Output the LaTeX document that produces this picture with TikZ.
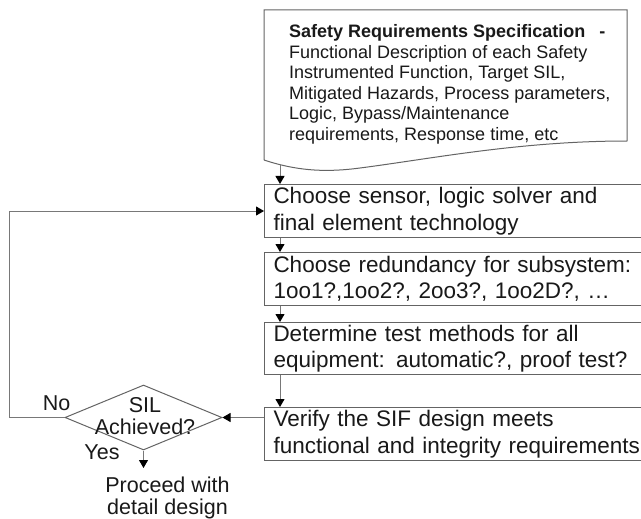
\documentclass[tikz,border=0pt]{standalone}
\usepackage{fontspec}
\setmainfont{Liberation Sans}
\usetikzlibrary{arrows.meta,shapes.geometric}
\definecolor{linegray}{RGB}{120,120,120}
\definecolor{boxgray}{RGB}{100,100,100}
\definecolor{txt}{RGB}{25,25,25}
\begin{document}
\begin{tikzpicture}[x=1pt,y=-1pt,
  stepbox/.style={draw=boxgray, line width=1pt, rectangle, anchor=north west, text width=380pt, inner xsep=9pt, inner ysep=0pt, align=left, font=\fontsize{22.5}{26.5}\selectfont, text=txt},
  arr/.style={draw=linegray, line width=1pt, -{Triangle[length=8pt,width=9pt,color=black]}},
  lbl/.style={font=\fontsize{21.5}{22}\selectfont, text=txt, inner sep=0pt, align=center}]
\useasboundingbox (0,0) rectangle (641,519);
\clip (0,0) rectangle (641,519);
\fill[white] (0,0) rectangle (641,519);
% document shape
\draw[boxgray, line width=1pt] (264,160) -- (264,10) -- (627,10) -- (627,141) .. controls (520,141) and (430,159) .. (360,168) .. controls (330,172) and (300,172) .. (264,160);
\node[anchor=north west, inner sep=0pt, align=left, font=\fontsize{18}{20.5}\selectfont, text=txt] (spec) at (289,24.5)
  {\textbf{Safety Requirements Specification}\hspace{14pt}\textbf{-}\\
   Functional Description of each Safety\\
   Instrumented Function, Target SIL,\\
   Mitigated Hazards, Process parameters,\\
   Logic, Bypass/Maintenance\\
   requirements, Response time, etc};
% boxes
\node[stepbox, minimum height=53pt] (b1) at (264,184) {Choose sensor, logic solver and\\final element technology};
\node[stepbox, minimum height=53pt] (b2) at (264,252) {Choose redundancy for subsystem:\\1oo1?,1oo2?, 2oo3?, 1oo2D?, \dots};
\node[stepbox, minimum height=52pt] (b3) at (264,322) {Determine test methods for all\\equipment: automatic?, proof test?};
\node[stepbox, minimum height=53pt] (b4) at (264,407) {Verify the SIF design meets\\functional and integrity requirements};
% decision
\node[diamond, draw=boxgray, line width=1pt, minimum width=157pt, minimum height=65pt, inner sep=0pt] (d) at (143.5,417.5) {};
\node[lbl] (dt) at (145,416) {SIL\\Achieved?};
\node[lbl] (no) at (56.5,403) {No};
\node[lbl] (yes) at (102,452) {Yes};
\node[lbl] (pr) at (167.5,497.5) {Proceed with\\detail design};
% connectors
\coordinate (docout) at (280,165);
\coordinate (yesend) at (143.5,468);
\draw[arr] (docout) -- (docout |- b1.north);
\draw[arr] ([xshift=16pt]b1.south west) -- ([xshift=16pt]b2.north west);
\draw[arr] ([xshift=16pt]b2.south west) -- ([xshift=16pt]b3.north west);
\draw[arr] ([xshift=16pt]b3.south west) -- ([xshift=16pt]b4.north west);
\draw[arr] (b4.west |- d.east) -- (d.east);
\draw[arr] (d.south) -- (yesend);
\draw[arr] (d.west) -- ++(-55,0) |- (b1.west);
\end{tikzpicture}
\end{document}
